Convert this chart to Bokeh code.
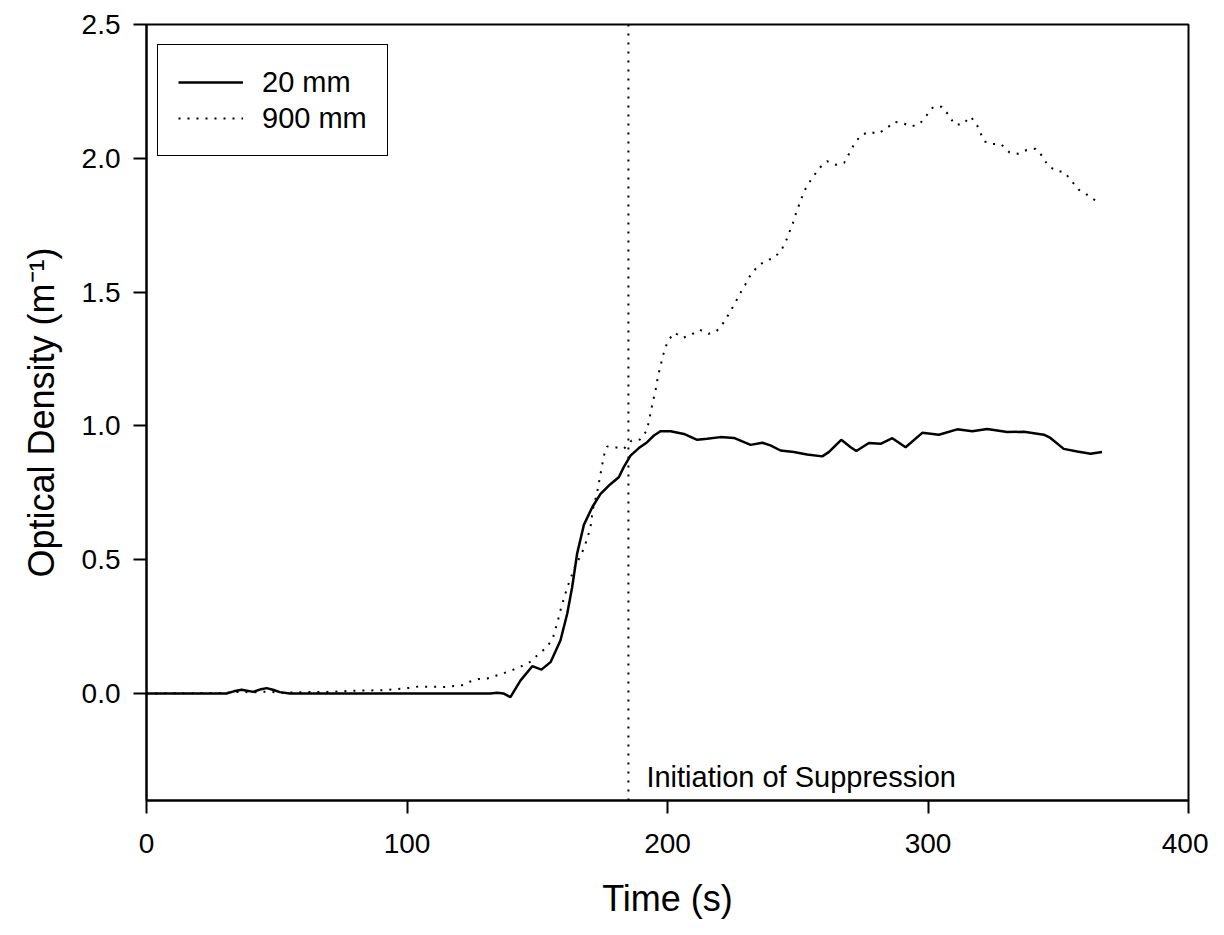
from bokeh.plotting import figure
from bokeh.models import Range1d, FixedTicker, Span, Label, Legend, LegendItem, PrintfTickFormatter
from bokeh.embed import file_html
from bokeh.resources import INLINE

# 20 mm series (solid)
t_20 = [0, 30.7, 33.5, 36.5, 41.0, 44.0, 46.1, 48.5, 51.2, 55.0, 60, 100, 132.0, 134.6, 137.0, 139.7,
        143.6, 148.1, 151.6, 155.1, 158.9, 161.5, 163.4, 165.3, 167.9, 171.1, 174.3, 177.5,
        181.3, 183.2, 185.8, 189.0, 192.2, 194.8, 197.3, 201.2, 206.3, 211.4, 215.2, 220.3,
        225.5, 231.9, 236.4, 239.5, 243.4, 248.5, 253.6, 259.4, 261.9, 266.7, 270.3, 272.5,
        277.3, 281.8, 286.3, 291.4, 297.8, 304.2, 311.2, 317.0, 322.7, 330.4, 336.8, 344.5,
        347.0, 352.1, 357.3, 362.4, 366.8]
od_20 = [0, 0, 0.008, 0.014, 0.006, 0.016, 0.020, 0.014, 0.005, 0.0, 0, 0, 0, 0.003, 0.0, -0.014,
         0.049, 0.102, 0.089, 0.117, 0.198, 0.298, 0.397, 0.522, 0.630, 0.696, 0.746, 0.777,
         0.808, 0.846, 0.889, 0.917, 0.939, 0.964, 0.980, 0.980, 0.970, 0.948, 0.952, 0.958,
         0.955, 0.929, 0.937, 0.927, 0.908, 0.902, 0.893, 0.886, 0.902, 0.948, 0.920, 0.906,
         0.936, 0.933, 0.954, 0.920, 0.974, 0.967, 0.987, 0.980, 0.988, 0.977, 0.978, 0.967,
         0.955, 0.914, 0.904, 0.896, 0.902]

# 900 mm series (dotted)
t_900 = [0, 30, 36, 41, 46, 52, 60, 70, 81.9, 91.1, 101.0, 104.5, 110.0, 114.1, 121.2, 124.1,
         127.6, 130.8, 134.1, 137.4, 140.8, 144.0, 147.3, 150.5, 153.7, 156.0, 158.0, 158.9,
         159.9, 161.0, 162.1, 164.7, 166.6, 168.1, 169.3, 170.4, 171.3, 173.0, 174.3, 175.6,
         176.8, 180.0, 183.2, 186.2, 189.4, 191.7, 192.8, 193.5, 194.2, 195.0, 195.8, 196.3,
         197.2, 198.0, 199.0, 200.3, 202.7, 205.9, 209.2, 212.4, 215.7, 218.9, 221.8, 223.8,
         225.8, 227.6, 229.7, 231.6, 234.3, 237.5, 240.8, 243.6, 245.4, 246.8, 248.1, 249.3,
         250.5, 251.8, 253.4, 255.7, 258.2, 261.3, 264.6, 267.8, 269.7, 271.5, 274.1, 277.4,
         280.6, 283.9, 287.0, 290.2, 293.4, 296.7, 299.3, 302.0, 305.3, 308.0, 310.2, 313.2,
         316.3, 318.5, 320.0, 321.6, 324.8, 328.0, 331.3, 334.6, 337.9, 341.3, 344.0, 346.0,
         349.1, 352.3, 355.1, 357.8, 361.0, 364.3]
od_900 = [0, 0.002, 0.006, 0.004, 0.007, 0.003, 0.005, 0.006, 0.011, 0.012, 0.021, 0.026, 0.025,
          0.024, 0.031, 0.044, 0.054, 0.056, 0.066, 0.077, 0.089, 0.102, 0.118, 0.147, 0.173,
          0.207, 0.275, 0.310, 0.344, 0.379, 0.412, 0.479, 0.514, 0.547, 0.584, 0.618, 0.686,
          0.752, 0.821, 0.889, 0.923, 0.920, 0.914, 0.945, 0.949, 0.978, 1.013, 1.048, 1.082,
          1.116, 1.151, 1.185, 1.218, 1.253, 1.287, 1.320, 1.348, 1.329, 1.341, 1.359, 1.344,
          1.355, 1.389, 1.423, 1.456, 1.491, 1.525, 1.559, 1.593, 1.617, 1.627, 1.655, 1.689,
          1.724, 1.757, 1.793, 1.826, 1.860, 1.895, 1.928, 1.963, 1.989, 1.976, 1.983, 2.017,
          2.050, 2.085, 2.099, 2.092, 2.110, 2.136, 2.132, 2.119, 2.127, 2.158, 2.192, 2.193,
          2.161, 2.126, 2.126, 2.156, 2.131, 2.098, 2.063, 2.053, 2.053, 2.022, 2.017, 2.031,
          2.036, 2.007, 1.973, 1.954, 1.948, 1.916, 1.883, 1.864, 1.842]

x_ticks = [0, 100, 200, 300, 400]
y_ticks = [0.0, 0.5, 1.0, 1.5, 2.0, 2.5]
suppression_time = 185
series_labels = ["20 mm", "900 mm"]
x_title = "Time (s)"
y_title = "Optical Density (m\u207b\u00b9)"
note = "Initiation of Suppression"

FONT = "Liberation Sans"

p = figure(width=1208, height=922, output_backend="svg", toolbar_location=None,
           x_range=Range1d(0, 400), y_range=Range1d(-0.4, 2.5),
           min_border_left=146, min_border_right=20, min_border_top=24, min_border_bottom=122)
p.background_fill_color = "white"
p.border_fill_color = "white"
p.grid.visible = False
p.outline_line_color = "black"
p.outline_line_width = 2
p.outline_line_alpha = 1

for ax in (p.xaxis[0], p.yaxis[0]):
    ax.axis_line_width = 2
    ax.major_tick_line_width = 2
    ax.major_tick_in = 0
    ax.major_tick_out = 13
    ax.minor_tick_line_color = None
    ax.major_label_text_font = FONT
    ax.major_label_text_font_size = "28px"
    ax.major_label_text_color = "black"
    ax.axis_label_text_font = FONT
    ax.axis_label_text_font_size = "36px"
    ax.axis_label_text_font_style = "normal"
    ax.axis_label_text_color = "black"

p.xaxis.ticker = FixedTicker(ticks=x_ticks)
p.yaxis.ticker = FixedTicker(ticks=y_ticks)
p.yaxis.formatter = PrintfTickFormatter(format="%.1f")
p.xaxis.axis_label = x_title
p.yaxis.axis_label = y_title
p.xaxis.major_label_standoff = 20
p.xaxis.axis_label_standoff = 22
p.yaxis.major_label_standoff = 13
p.yaxis.axis_label_standoff = 17

r20 = p.line(t_20, od_20, line_color="black", line_width=2.5)
r900 = p.line(t_900, od_900, line_color="black", line_width=2, line_dash="2 7")

p.add_layout(Span(location=suppression_time, dimension="height", line_color="black",
                  line_width=2, line_dash="2 7"))
p.add_layout(Label(x=191.9, y=-0.314, text=note, text_font=FONT, text_font_size="29px",
                   text_color="black", text_baseline="alphabetic"))

legend = Legend(items=[LegendItem(label=series_labels[0], renderers=[r20]),
                       LegendItem(label=series_labels[1], renderers=[r900])],
                location=(11, 644))
legend.label_text_font = FONT
legend.label_text_font_size = "29px"
legend.label_text_color = "black"
legend.glyph_width = 65
legend.glyph_height = 34
legend.label_height = 34
legend.label_standoff = 19
legend.spacing = 2
legend.padding = 20
legend.margin = 0
legend.border_line_color = "black"
legend.border_line_alpha = 1
legend.border_line_width = 1.5
legend.background_fill_alpha = 1
p.add_layout(legend, "center")

open("out.html", "w").write(file_html(p, INLINE))
